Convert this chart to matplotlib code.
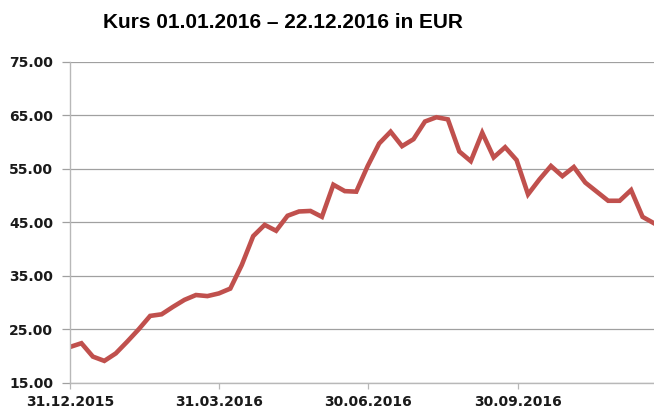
import numpy as np
import pandas as pd
import matplotlib
matplotlib.use("Agg")
import matplotlib.pyplot as plt
import matplotlib.dates as mdates
from matplotlib.ticker import FuncFormatter

# weekly closing prices, 31.12.2015 - 22.12.2016
dates = pd.date_range("2015-12-31", "2016-12-22", freq="7D")
kurs = [21.7, 22.4, 19.9, 19.1, 20.5, 22.7, 25.0, 27.5, 27.8, 29.2,
        30.5, 31.4, 31.2, 31.7, 32.6, 37.0, 42.4, 44.5, 43.4, 46.2,
        47.0, 47.1, 46.0, 52.0, 50.8, 50.7, 55.5, 59.7, 61.9, 59.2,
        60.5, 63.8, 64.6, 64.2, 58.2, 56.4, 61.7, 57.1, 59.0, 56.6,
        50.2, 53.0, 55.5, 53.6, 55.3, 52.4, 50.7, 49.0, 49.0, 51.0,
        46.0, 44.8]
tick_dates = pd.to_datetime(["2015-12-31", "2016-03-31", "2016-06-30", "2016-09-30"])
y_ticks = [15, 25, 35, 45, 55, 65, 75]
title = "Kurs 01.01.2016 \u2013 22.12.2016 in EUR"

fig = plt.figure(figsize=(6.54, 4.13), dpi=100)
ax = fig.add_axes([0.107, 0.073, 0.893, 0.778])

ax.plot(dates, kurs, color="#C0504D", lw=3.3, solid_joinstyle="miter", clip_on=True)

ax.set_xlim(dates[0], dates[-1])
ax.set_ylim(15, 75)
ax.set_yticks(y_ticks)
ax.yaxis.set_major_formatter(FuncFormatter(lambda v, p: f"{v:.2f}"))
ax.set_xticks(tick_dates)
ax.xaxis.set_major_formatter(mdates.DateFormatter("%d.%m.%Y"))

ax.grid(axis="y", color="#a0a0a0", lw=0.9)
ax.set_axisbelow(True)
for s in ["top", "right"]:
    ax.spines[s].set_visible(False)
for s in ["left", "bottom"]:
    ax.spines[s].set_color("#b8b8b8")
    ax.spines[s].set_linewidth(1.0)

ax.tick_params(axis="y", length=6, width=0.9, color="#a0a0a0", pad=6)
ax.tick_params(axis="x", length=4, width=0.9, color="#b8b8b8", pad=5)
for lab in ax.get_xticklabels() + ax.get_yticklabels():
    lab.set_fontfamily("DejaVu Sans")
    lab.set_fontweight("bold")
    lab.set_fontsize(10)
    lab.set_color("#1a1a1a")

fig.text(103 / 654, 1 - 22 / 413, title, family="Liberation Sans", weight="bold",
         fontsize=15, ha="left", va="center", color="black")

fig.savefig("out.png", dpi=100)
